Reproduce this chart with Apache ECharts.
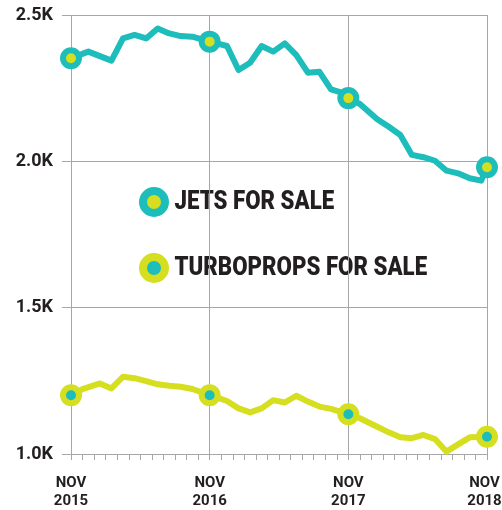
<!DOCTYPE html>
<html><head><meta charset="utf-8">
<script src="https://cdn.jsdelivr.net/npm/echarts@6/dist/echarts.min.js"></script>
<style>html,body{margin:0;padding:0;background:#fff}#c{width:502px;height:510px}</style>
</head><body><div id="c"></div>
<script>
// x = months since Nov 2015
const xTickLabels = {0: 'NOV\n2015', 12: 'NOV\n2016', 24: 'NOV\n2017', 36: 'NOV\n2018'};
const seriesNames = ['JETS FOR SALE', 'TURBOPROPS FOR SALE'];
const jetMonths = [0, 1.5, 3.5, 4.5, 5.5, 6.5, 7.5, 8.5, 9.5, 10.5, 12, 13.5, 14.5, 15.5, 16.5, 17.5, 18.5, 19.5, 20.5, 21.5, 22.5, 23.5, 24, 25, 26.5, 27.5, 28.5, 29.5, 30.5, 31.5, 32.5, 33.5, 34.5, 35.5, 36];
const jetValues = [2352, 2375, 2344, 2420, 2432, 2420, 2454, 2437, 2428, 2426, 2409, 2394, 2312, 2337, 2394, 2375, 2403, 2363, 2303, 2306, 2246, 2234, 2216, 2196, 2144, 2118, 2090, 2022, 2014, 2002, 1968, 1959, 1942, 1934, 1980];
const turboMonths = [0, 1, 2.5, 3.5, 4.5, 5.5, 6.5, 7.5, 8.5, 9.5, 10.5, 12, 13.5, 14.5, 15.5, 16.5, 17.5, 18.5, 19.5, 20.5, 21.5, 22.5, 24, 25, 26.5, 27.5, 28.5, 29.5, 30.5, 31.5, 32.5, 33.5, 34.5, 36];
const turboValues = [1201, 1222, 1241, 1224, 1264, 1259, 1249, 1238, 1233, 1230, 1222, 1201, 1181, 1156, 1142, 1156, 1184, 1176, 1199, 1179, 1162, 1154, 1136, 1122, 1093, 1074, 1057, 1054, 1065, 1051, 1008, 1033, 1057, 1059];

const TEAL = '#1dbdbb', YELLOW = '#d5df20', INK = '#231f20', GRID = '#a7a7a7';
const SANS = "Roboto, 'Liberation Sans', Arial, sans-serif";

function pairs(ms, vs) { return ms.map((m, i) => [m, vs[i]]); }
function novPoints(ms, vs) { return pairs(ms, vs).filter(p => p[0] % 12 === 0); }

function legendItem(y, name, fill, ring) {
  return {
    type: 'group', left: 139, top: y - 15,
    children: [
      {type: 'circle', shape: {cx: 15, cy: 15, r: 11}, style: {fill: fill, stroke: ring, lineWidth: 8}},
      {type: 'text', x: 32, y: 16, scaleX: 0.89, originX: 32,
       style: {text: name, fontFamily: SANS, fontWeight: 900, fontSize: 25, fill: INK, verticalAlign: 'middle', align: 'left'}}
    ]
  };
}

const chart = echarts.init(document.getElementById('c'));
chart.setOption({
  animation: false,
  grid: {left: 71, right: 15, top: 15, bottom: 56, containLabel: false, outerBoundsMode: 'none'},
  xAxis: {
    type: 'value', min: 0, max: 36, interval: 12,
    axisLine: {show: true, lineStyle: {color: GRID, width: 1}},
    axisTick: {show: true, length: 6, lineStyle: {color: GRID}},
    minorTick: {show: true, splitNumber: 12, length: 6, lineStyle: {color: GRID}},
    splitLine: {show: true, lineStyle: {color: GRID, width: 1}},
    axisLabel: {
      formatter: v => {
        const t = xTickLabels[v];
        if (!t) return '';
        return v === 36 ? t.split('\n').map(s => '{e|' + s + '}').join('\n') : t;
      },
      rich: {e: {fontFamily: SANS, fontWeight: 'bold', fontSize: 15, lineHeight: 18, color: INK, padding: [0, 5, 0, 0]}},
      fontFamily: SANS, fontWeight: 'bold', fontSize: 15, lineHeight: 18,
      color: INK, margin: 20, hideOverlap: false
    }
  },
  yAxis: {
    type: 'value', min: 1000, max: 2500, interval: 500,
    axisLine: {show: false},
    axisTick: {show: true, length: 9, lineStyle: {color: GRID}},
    splitLine: {show: true, lineStyle: {color: GRID, width: 1}},
    axisLabel: {
      formatter: v => (v / 1000).toFixed(1) + 'K',
      fontFamily: SANS, fontWeight: 'bold', fontSize: 18,
      color: INK, margin: 18
    }
  },
  graphic: [
    legendItem(202, seriesNames[0], YELLOW, TEAL),
    legendItem(268, seriesNames[1], TEAL, YELLOW)
  ],
  series: [
    {name: seriesNames[1], type: 'line', data: pairs(turboMonths, turboValues), showSymbol: false,
     lineStyle: {color: YELLOW, width: 6, join: 'round', cap: 'round'}, itemStyle: {color: YELLOW}, z: 2},
    {name: seriesNames[0], type: 'line', data: pairs(jetMonths, jetValues), showSymbol: false,
     lineStyle: {color: TEAL, width: 6, join: 'round', cap: 'round'}, itemStyle: {color: TEAL}, z: 2},
    {name: seriesNames[1], type: 'scatter', data: novPoints(turboMonths, turboValues), symbol: 'circle', symbolSize: 16,
     itemStyle: {color: TEAL, borderColor: YELLOW, borderWidth: 6, opacity: 1}, z: 3},
    {name: seriesNames[0], type: 'scatter', data: novPoints(jetMonths, jetValues), symbol: 'circle', symbolSize: 16,
     itemStyle: {color: YELLOW, borderColor: TEAL, borderWidth: 6, opacity: 1}, z: 3}
  ]
});
</script></body></html>
